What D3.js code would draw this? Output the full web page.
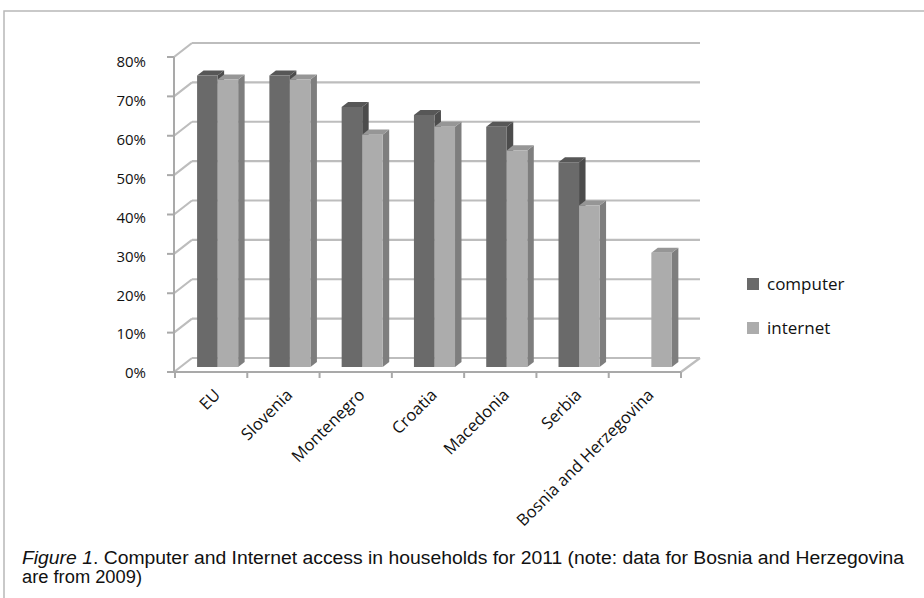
<!DOCTYPE html>
<html>
<head>
<meta charset="utf-8">
<script src="https://cdn.jsdelivr.net/npm/d3@7"></script>
<style>
  html, body { margin: 0; padding: 0; background: #fff; }
  svg { display: block; }
  text { font-family: "Open Sans", "Noto Sans", sans-serif; fill: #111; }
</style>
</head>
<body>
<svg id="chart" width="924" height="598"></svg>
<script>
// Household access (share of households), 2011; Bosnia and Herzegovina: 2009
const categories = ["EU", "Slovenia", "Montenegro", "Croatia", "Macedonia", "Serbia", "Bosnia and Herzegovina"];
const seriesNames = ["computer", "internet"];
const computerValues = [0.74, 0.74, 0.66, 0.64, 0.61, 0.52, null];
const internetValues = [0.73, 0.73, 0.59, 0.61, 0.55, 0.41, 0.29];
const yTicks = [0, 0.1, 0.2, 0.3, 0.4, 0.5, 0.6, 0.7, 0.8];

const svg = d3.select("#chart");

// 3D box: front plane, plus a depth offset towards the back wall
const front = { left: 174, right: 681, bottom: 372, top: 57 };
const depth = { dx: 18, dy: -14 };
const barDepth = { from: 0.36, to: 0.72 };

const y = d3.scaleLinear().domain([0, 0.8]).range([front.bottom, front.top]);
const yLabel = d3.scaleLinear().domain([0, 0.8]).range([front.bottom + 1, front.top + 5]);
const x0 = d3.scaleBand().domain(categories).range([front.left + 1, front.right]).padding(0);
const x1 = d3.scaleBand().domain(seriesNames).range([0, x0.bandwidth()]).paddingInner(0).paddingOuter(0.76);

const colors = {
  computer: { front: "#6a6a6a", top: "#575757", side: "#4c4c4c" },
  internet: { front: "#acacac", top: "#969696", side: "#7e7e7e" }
};

// project a point on the front plane to a given depth (0 = front, 1 = back wall)
const P = (px, py, z) => [px + depth.dx * z, py + depth.dy * z];

// outer frame
svg.append("path")
  .attr("d", "M4,598 L4,11 L924,11")
  .attr("fill", "none").attr("stroke", "#b8b8b8").attr("stroke-width", 1.5);

// back-wall gridlines and side-wall diagonals
const grid = svg.append("g").attr("stroke", "#bdbdbd").attr("stroke-width", 2.2).attr("fill", "none");
yTicks.forEach(v => {
  const a = P(front.left, y(v), 0), b = P(front.left, y(v), 1), c = P(front.right, y(v), 1);
  grid.append("path").attr("d", `M${b[0]},${b[1]} L${c[0] + 1},${c[1]}`);
  grid.append("path").attr("d", `M${a[0]},${a[1]} L${b[0]},${b[1]}`);
});
// floor: right diagonal edge
{
  const a = P(front.right, y(0), 0), b = P(front.right, y(0), 1);
  grid.append("path").attr("d", `M${a[0]},${a[1]} L${b[0] + 1},${b[1]}`);
}

// bars
const rows = categories.map((c, i) => ({ category: c, computer: computerValues[i], internet: internetValues[i] }));
const barsG = svg.append("g");
rows.forEach(r => {
  seriesNames.forEach(s => {
    const v = r[s];
    if (v == null) return;
    const xl = x0(r.category) + x1(s), xr = xl + x1.bandwidth();
    const yt = y(v), yb = y(0);
    const fz = barDepth.from, bz = barDepth.to;
    const pts = (arr) => arr.map(p => p.join(",")).join(" ");
    // side face
    barsG.append("polygon").attr("fill", colors[s].side)
      .attr("points", pts([P(xr, yt, fz), P(xr, yt, bz), P(xr, yb, bz), P(xr, yb, fz)]));
    // top face
    barsG.append("polygon").attr("fill", colors[s].top)
      .attr("points", pts([P(xl, yt, fz), P(xl, yt, bz), P(xr, yt, bz), P(xr, yt, fz)]));
    // front face
    barsG.append("polygon").attr("fill", colors[s].front)
      .attr("points", pts([P(xl, yt, fz), P(xr, yt, fz), P(xr, yb, fz), P(xl, yb, fz)]));
  });
});

// front axes
const axisG = svg.append("g").attr("stroke", "#a9a9a9").attr("stroke-width", 2).attr("fill", "none");
axisG.append("path").attr("d", `M${front.left},${y(0.8)} L${front.left},${y(0)} L${front.right},${y(0)}`);
yTicks.forEach(v => axisG.append("path").attr("d", `M${front.left - 7},${y(v)} L${front.left},${y(v)}`));
const edges = categories.map(c => x0(c)).concat([x0.range()[1]]);
edges.forEach(ex => axisG.append("path").attr("d", `M${ex},${y(0)} L${ex},${y(0) + 6}`));

// y tick labels
svg.append("g").selectAll("text").data(yTicks).join("text")
  .attr("x", 146).attr("y", d => yLabel(d))
  .attr("dy", "0.35em").attr("text-anchor", "end")
  .style("font-size", "15px")
  .text(d => d3.format(".0%")(d));

// category labels, rotated
svg.append("g").selectAll("text").data(categories).join("text")
  .attr("text-anchor", "end")
  .style("font-size", "16.5px")
  .attr("transform", d => `translate(${x0(d) + x0.bandwidth() / 2 + 10},${396}) rotate(-45)`)
  .text(d => d);

// legend
const legend = svg.append("g").selectAll("g").data(seriesNames).join("g")
  .attr("transform", (d, i) => `translate(747,${278 + i * 44})`);
legend.append("rect").attr("width", 12).attr("height", 12).attr("fill", d => colors[d].front);
legend.append("text").attr("x", 20).attr("y", 12).style("font-size", "17px").text(d => d);

// caption
const capFont = "'Liberation Sans', 'Open Sans', sans-serif";
const cap = svg.append("text").attr("x", 22).attr("y", 564)
  .style("font-family", capFont)
  .style("font-size", "18px")
  .attr("textLength", 882).attr("lengthAdjust", "spacingAndGlyphs");
cap.append("tspan").style("font-style", "italic").text("Figure 1");
cap.append("tspan").text(". Computer and Internet access in households for 2011 (note: data for Bosnia and Herzegovina");
svg.append("text").attr("x", 22).attr("y", 583)
  .style("font-family", capFont)
  .style("font-size", "18px")
  .attr("textLength", 120).attr("lengthAdjust", "spacingAndGlyphs")
  .text("are from 2009)");
</script>
</body>
</html>
